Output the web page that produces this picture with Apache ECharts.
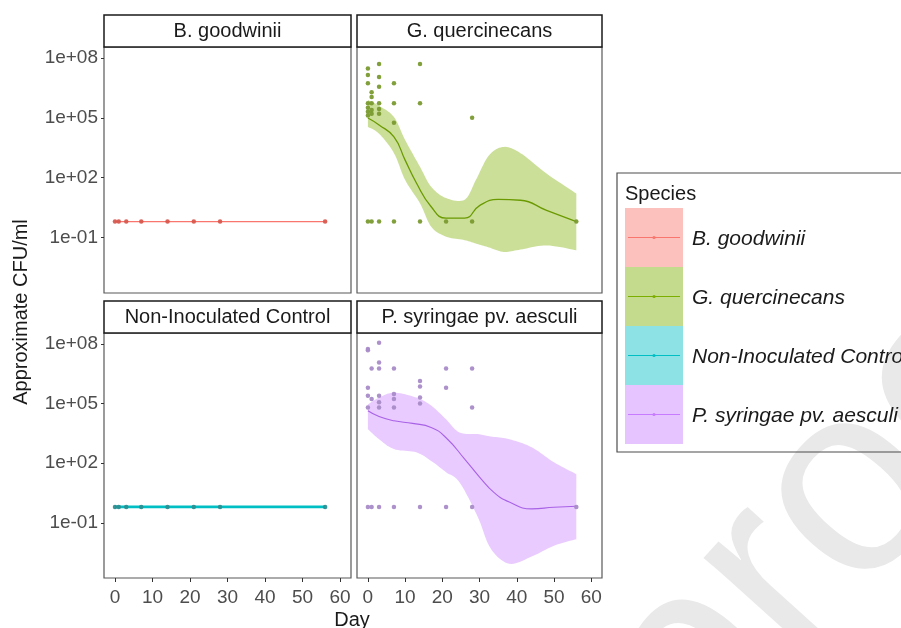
<!DOCTYPE html>
<html>
<head>
<meta charset="utf-8">
<script src="https://cdn.jsdelivr.net/npm/echarts@6/dist/echarts.min.js"></script>
<style>
html, body { margin: 0; padding: 0; background: #fff; }
#chart { width: 901px; height: 628px; }
</style>
</head>
<body>
<div id="chart"></div>
<script>
// facet names + ggplot hue colours
var species = ['B. goodwinii', 'G. quercinecans', 'Non-Inoculated Control', 'P. syringae pv. aesculi'];
var colors = ['#F8766D', '#7CAE00', '#00BFC4', '#C77CFF'];
var xTicks = [0, 10, 20, 30, 40, 50, 60];
var yTickExps = [-1, 2, 5, 8];

// B. goodwinii + control: everything sits on the detection floor
var floorDays = [0, 1, 3, 7, 14, 21, 28, 56];
var bgCfu = [0.63, 0.63, 0.63, 0.63, 0.63, 0.63, 0.63, 0.63];
var ncCfu = [0.63, 0.63, 0.63, 0.63, 0.63, 0.63, 0.63, 0.63];

// G. quercinecans points
var gqDays = [0, 0, 0, 0, 0, 0, 0, 0, 1, 1, 1, 1, 1, 1, 3, 3, 3, 3, 3, 3, 3, 7, 7, 7, 7, 14, 14, 14, 21, 28, 28, 56];
var gqCfu = [3.0e7, 1.4e7, 5.4e6, 5.4e5, 3.2e5, 2.0e5, 1.3e5, 0.63,
  1.9e6, 1.1e6, 5.4e5, 2.5e5, 1.6e5, 0.63,
  5.0e7, 1.1e7, 3.6e6, 5.4e5, 2.8e5, 1.6e5, 0.63,
  5.4e6, 5.4e5, 5.6e4, 0.63,
  5.0e7, 5.4e5, 0.63, 0.63, 1.0e5, 0.63, 0.63];
// G. quercinecans smoother
var gqFitDays = [0, 3, 7, 10, 13, 17, 21, 26, 30, 35, 41, 48, 56];
var gqFit = [9.8e4, 4.4e4, 1.1e4, 760, 56, 3.5, 0.93, 0.93, 4.0, 8.1, 7.4, 2.3, 0.62];
var gqBandDays = [0, 3, 7, 10, 14, 17, 21, 26, 29, 32.5, 36.5, 41, 48, 56];
var gqHigh = [7.8e5, 4.0e5, 1.1e5, 7.8e3, 350, 35, 9.5, 7.9, 76, 1.3e3, 3.5e3, 1.7e3, 160, 16];
var gqLow = [3.5e4, 1.6e4, 1.7e3, 76, 5.2, 0.35, 0.11, 0.074, 0.05, 0.032, 0.019, 0.025, 0.04, 0.023];

// P. syringae pv. aesculi points
var psDays = [0, 0, 0, 0, 0, 0, 1, 1, 1, 3, 3, 3, 3, 3, 3, 3, 7, 7, 7, 7, 7, 14, 14, 14, 14, 14, 21, 21, 21, 28, 28, 28, 56];
var psCfu = [5.6e7, 4.8e7, 6.3e5, 2.5e5, 6.3e4, 0.63,
  5.8e6, 1.7e5, 0.63,
  1.15e8, 1.15e7, 5.8e6, 2.5e5, 1.15e5, 6.3e4, 0.63,
  5.8e6, 3.0e5, 1.7e5, 6.3e4, 0.63,
  1.35e6, 7.1e5, 2.0e5, 1.0e5, 0.63,
  5.8e6, 6.3e5, 0.63,
  5.8e6, 6.3e4, 0.63, 0.63];
// P. syringae smoother
var psFitDays = [0, 3, 7, 12, 17, 21, 26, 30, 34, 38, 44, 50, 56];
var psFit = [4.3e4, 2.2e4, 1.35e4, 1.0e4, 6.3e3, 1.9e3, 160, 20, 3.2, 1.1, 0.5, 0.6, 0.68];
var psBandDays = [0, 3, 7, 13, 17, 21, 24.6, 29.5, 33, 38, 44, 50, 56];
var psHigh = [9.1e4, 2.0e5, 3.5e5, 2.0e5, 7.9e4, 1.6e4, 3.5e3, 2.9e3, 2.2e3, 1.6e3, 630, 110, 28];
var psLow = [5.1e3, 1.6e3, 510, 350, 130, 35, 11, 0.2, 0.005, 8.7e-4, 0.002, 0.007, 0.015];

var font = '"Liberation Sans", Arial, sans-serif';
var chart = echarts.init(document.getElementById('chart'));

function pairs(days, vals) {
  return days.map(function (d, i) { return [d, Math.log10(vals[i])]; });
}
function expLabel(v) {
  var n = Math.round(v), a = Math.abs(n);
  return '1e' + (n < 0 ? '-' : '+') + (a < 10 ? '0' + a : a);
}
// catmull-rom through pixel points, for a smooth ribbon outline
function smoothPts(p) {
  var out = [];
  for (var i = 0; i < p.length - 1; i++) {
    var p0 = p[i - 1] || p[i], p1 = p[i], p2 = p[i + 1], p3 = p[i + 2] || p[i + 1];
    for (var k = 0; k < 10; k++) {
      var t = k / 10, t2 = t * t, t3 = t2 * t;
      out.push([0, 1].map(function (j) {
        return 0.5 * (2 * p1[j] + (p2[j] - p0[j]) * t + (2 * p0[j] - 5 * p1[j] + 4 * p2[j] - p3[j]) * t2 + (3 * p1[j] - p0[j] - 3 * p2[j] + p3[j]) * t3);
      }));
    }
  }
  out.push(p[p.length - 1]);
  return out;
}
function ribbon(idx, days, lo, hi, fill) {
  return {
    type: 'custom', xAxisIndex: idx, yAxisIndex: idx, z: 1,
    data: days.map(function (d, i) { return [d, Math.log10(lo[i]), Math.log10(hi[i])]; }),
    encode: { x: 0, y: [1, 2] },
    renderItem: function (params, api) {
      if (params.dataIndex !== 0) return;
      var up = days.map(function (d, i) { return api.coord([d, Math.log10(hi[i])]); });
      var dn = days.map(function (d, i) { return api.coord([d, Math.log10(lo[i])]); }).reverse();
      return { type: 'polygon', shape: { points: smoothPts(up).concat(smoothPts(dn)) }, style: { fill: fill } };
    }
  };
}
function fitLine(idx, days, vals, color, w) {
  return { type: 'line', xAxisIndex: idx, yAxisIndex: idx, z: 2, data: pairs(days, vals), smooth: true,
    showSymbol: false, lineStyle: { color: color, width: w }, silent: true };
}
function dots(idx, days, vals, color) {
  return { type: 'scatter', xAxisIndex: idx, yAxisIndex: idx, z: 3, data: pairs(days, vals),
    symbolSize: 4.5, itemStyle: { color: color, opacity: 0.95 } };
}

var panels = [
  { left: 104, top: 47, width: 247, height: 246 },
  { left: 357, top: 47, width: 245, height: 246 },
  { left: 104, top: 333, width: 247, height: 245 },
  { left: 357, top: 333, width: 245, height: 245 }
];

var graphics = [
  { type: 'text', x: 742, y: 819, rotation: 48 * Math.PI / 180, z: -10,
    style: { text: 'proof', font: '270px ' + font, fill: '#e9e9e9', verticalAlign: 'bottom' } },
  { type: 'text', x: 21, y: 312, rotation: Math.PI / 2,
    style: { text: 'Approximate CFU/ml', font: '20px ' + font, fill: '#1a1a1a', align: 'center', verticalAlign: 'middle' } },
  { type: 'text', x: 352, y: 620,
    style: { text: 'Day', font: '20px ' + font, fill: '#1a1a1a', align: 'center', verticalAlign: 'middle' } }
];
panels.forEach(function (p, i) {
  var sy = i < 2 ? 15 : 301;
  graphics.push({ type: 'rect', shape: { x: p.left, y: sy, width: p.width, height: 32 },
    style: { fill: '#fff', stroke: '#1a1a1a', lineWidth: 1.5 } });
  graphics.push({ type: 'text', x: p.left + p.width / 2, y: sy + 16,
    style: { text: species[i], font: '20px ' + font, fill: '#1a1a1a', align: 'center', verticalAlign: 'middle' } });
});
// legend
graphics.push({ type: 'rect', shape: { x: 617, y: 173, width: 320, height: 279 },
  style: { fill: 'none', stroke: '#4d4d4d', lineWidth: 1.2 } });
graphics.push({ type: 'text', x: 625, y: 194,
  style: { text: 'Species', font: '20px ' + font, fill: '#1a1a1a', verticalAlign: 'middle' } });
species.forEach(function (s, i) {
  var ky = 208 + i * 59;
  graphics.push({ type: 'rect', shape: { x: 625, y: ky, width: 58, height: 59 },
    style: { fill: echarts.color.modifyAlpha(colors[i], 0.45) } });
  graphics.push({ type: 'line', shape: { x1: 628, y1: ky + 29.5, x2: 680, y2: ky + 29.5 },
    style: { stroke: colors[i], lineWidth: 1 } });
  graphics.push({ type: 'circle', shape: { cx: 654, cy: ky + 29.5, r: 1.6 }, style: { fill: colors[i] } });
  graphics.push({ type: 'text', x: 692, y: ky + 31,
    style: { text: s, font: 'italic 21px ' + font, fill: '#1a1a1a', verticalAlign: 'middle' } });
});

var option = {
  backgroundColor: '#fff',
  animation: false,
  grid: panels.map(function (p) {
    return { left: p.left, top: p.top, width: p.width, height: p.height, show: true,
      backgroundColor: '#fff', borderColor: '#595959', borderWidth: 1.2 };
  }),
  xAxis: panels.map(function (p, i) {
    var bottom = i >= 2;
    return { gridIndex: i, type: 'value', min: -2.93, max: 62.9, position: 'bottom',
      axisLine: { show: false, onZero: false }, splitLine: { show: false },
      axisTick: { show: bottom, length: 4, customValues: xTicks, lineStyle: { color: '#333' } },
      axisLabel: { show: bottom, customValues: xTicks, margin: 10, color: '#4d4d4d', fontSize: 19, fontFamily: font } };
  }),
  yAxis: panels.map(function (p, i) {
    var left = i % 2 === 0;
    return { gridIndex: i, type: 'value', min: -3.78, max: 8.55, position: 'left',
      axisLine: { show: false, onZero: false }, splitLine: { show: false },
      axisTick: { show: left, length: 3, customValues: yTickExps, lineStyle: { color: '#333' } },
      axisLabel: { show: left, customValues: yTickExps, margin: 6, color: '#4d4d4d', fontSize: 19, fontFamily: font,
        formatter: expLabel } };
  }),
  series: [
    fitLine(0, floorDays, bgCfu, colors[0], 1.2),
    dots(0, floorDays, bgCfu, '#d8594f'),
    ribbon(1, gqBandDays, gqLow, gqHigh, echarts.color.modifyAlpha(colors[1], 0.4)),
    fitLine(1, gqFitDays, gqFit, '#6a9a00', 1.3),
    dots(1, gqDays, gqCfu, '#7a9a30'),
    fitLine(2, floorDays, ncCfu, colors[2], 2.6),
    dots(2, floorDays, ncCfu, '#2a8f92'),
    ribbon(3, psBandDays, psLow, psHigh, echarts.color.modifyAlpha(colors[3], 0.4)),
    fitLine(3, psFitDays, psFit, '#a862e6', 1.1),
    dots(3, psDays, psCfu, '#a88bc8')
  ],
  graphic: { elements: graphics }
};
chart.setOption(option);
</script>
</body>
</html>
